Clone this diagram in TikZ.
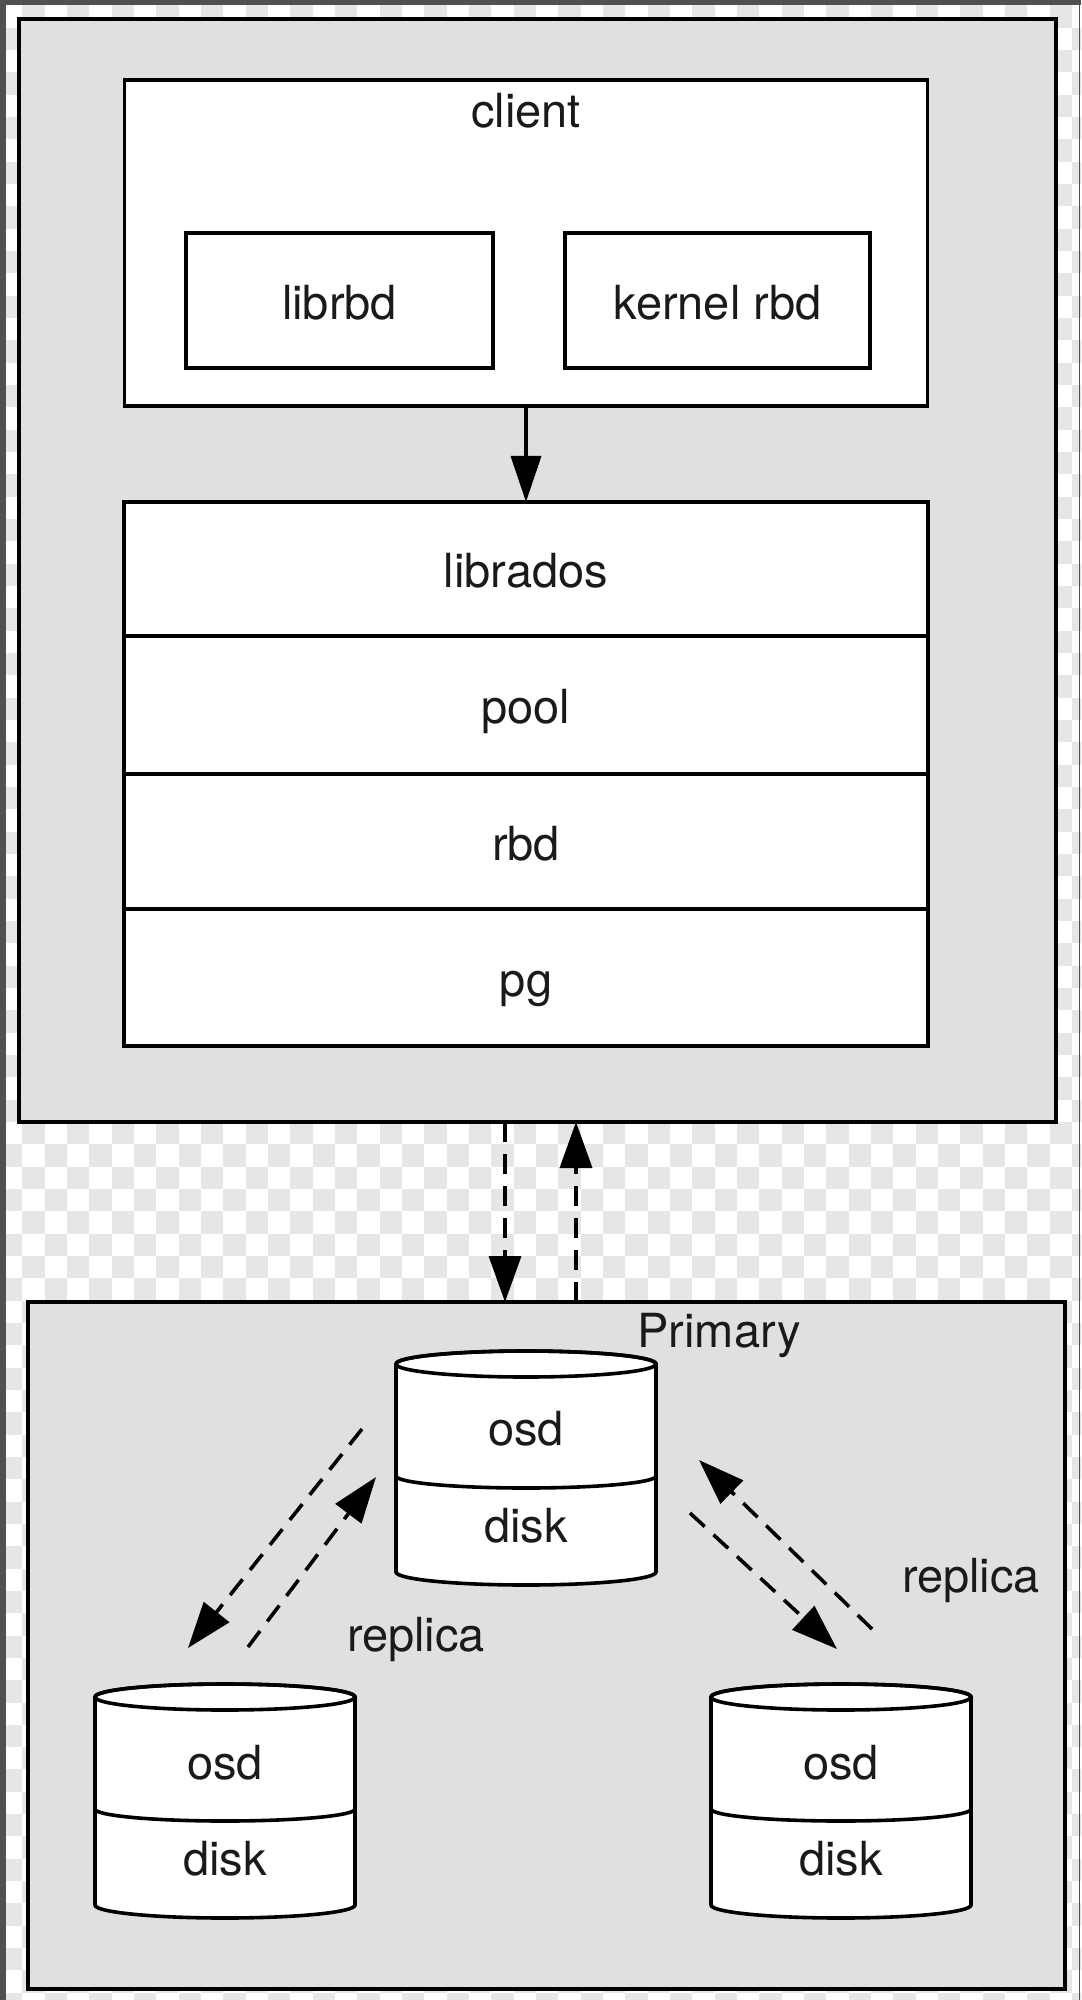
\documentclass[tikz,border=0pt]{standalone}
\usepackage{fontspec}
\setmainfont{TeX Gyre Heros}
\usetikzlibrary{arrows.meta}
\definecolor{boxgray}{HTML}{E0E0E0}
\definecolor{checkgray}{HTML}{E6E6E6}
\definecolor{stripgray}{HTML}{505050}
\definecolor{ink}{HTML}{1A1A1A}
\tikzset{
  graybox/.style={draw=black, line width=2.1pt, fill=boxgray, inner sep=0pt, outer sep=0pt},
  whitebox/.style={draw=black, line width=1.9pt, fill=white, inner sep=0pt, outer sep=0pt, lbl},
  lbl/.style={text=ink, font=\fontsize{23.5}{28}\selectfont, inner sep=0pt, text height=18.8pt, text depth=0pt},
  cylbody/.style={draw=black, line width=1.8pt, fill=white},
  cylline/.style={draw=black, line width=1.8pt},
  solidarrow/.style={draw=black, line width=1.7pt, -{Triangle[length=23pt,width=15pt]}},
  dasharrow/.style={draw=black, line width=1.8pt, dash pattern=on 10pt off 6pt, -{Triangle[length=23pt,width=16pt]}},
}
\newcommand{\mycyl}[5]{%
  \path[cylbody] (#1-130,#2) -- (#1-130,#4) arc[start angle=180,end angle=360,x radius=65pt,y radius=6.5pt] -- (#1+130,#2) arc[start angle=0,end angle=180,x radius=65pt,y radius=6.5pt] -- cycle;
  \draw[cylline] (#1,#2) ellipse[x radius=65pt,y radius=6.5pt];
  \draw[cylline] (#1-130,#3) arc[start angle=180,end angle=360,x radius=65pt,y radius=6pt];
  \coordinate (#5) at (#1,#2);
}
\begin{document}
\begin{tikzpicture}[x=0.5pt,y=-0.5pt]
\useasboundingbox (0,0) rectangle (1081,2000);
% background with checkerboard
\fill[white] (0,0) rectangle (1081,2000);
\begin{scope}
  \clip (0,0) rectangle (1081,2000);
  \foreach \i in {0,...,48}{
    \foreach \j in {-1,...,89}{
      \pgfmathtruncatemacro{\k}{mod(\i+\j+2,2)}
      \ifnum\k=1 \fill[checkgray] (\i*22.33,5.4+\j*22.33) rectangle ++(22.33,22.33);\fi
    }
  }
\end{scope}
\fill[stripgray] (0,0) rectangle (1081,5.5);
\fill[stripgray] (0,0) rectangle (6,2000);
\draw[stripgray, line width=0.75pt] (1079.5,0) -- (1079.5,2000);

% upper container
\node[graybox, minimum width=518.5pt, minimum height=551.5pt] (topbox) at (537.5,570.5) {};
\node[whitebox, minimum width=401.5pt, minimum height=163pt] (client) at (526,243) {};
\node[lbl] (clientlabel) at (526,109.2) {client};
\node[whitebox, minimum width=153.5pt, minimum height=67.5pt] (librbd) at (339.5,300.5) {librbd};
\node[whitebox, minimum width=152.5pt, minimum height=67.5pt] (kernelrbd) at (717.5,300.5) {kernel rbd};

\node[whitebox, minimum width=402pt, minimum height=67pt] (librados) at (526,569) {librados};
\node[whitebox, minimum width=402pt, minimum height=69pt] (pool) at (526,705) {pool};
\node[whitebox, minimum width=402pt, minimum height=67.5pt] (rbd) at (526,841.5) {rbd};
\node[whitebox, minimum width=402pt, minimum height=68.5pt] (pg) at (526,977.5) {pg};

\draw[solidarrow] (client.south) -- (librados.north);

% lower container
\node[graybox, minimum width=518.5pt, minimum height=343.5pt] (botbox) at (546.5,1645.5) {};

\coordinate (dn) at (505,0);
\coordinate (up) at (576,0);
\draw[dasharrow] (topbox.south -| dn) -- (botbox.north -| dn);
\draw[dasharrow] (botbox.north -| up) -- (topbox.south -| up);

% cylinders
\mycyl{526}{1364}{1476}{1572}{primarytop}
\mycyl{225}{1697}{1809}{1905}{lefttop}
\mycyl{841}{1697}{1809}{1905}{righttop}

\node[lbl] (primary) at (719,1329) {Primary};
\node[lbl] (posd) at (526,1427) {osd};
\node[lbl] (pdisk) at (526,1524) {disk};
\node[lbl] (losd) at (225,1761) {osd};
\node[lbl] (ldisk) at (225,1857) {disk};
\node[lbl] (rosd) at (841,1761) {osd};
\node[lbl] (rdisk) at (841,1857) {disk};
\node[lbl] (replicaL) at (416,1633) {replica};
\node[lbl] (replicaR) at (971,1574) {replica};

% replication arrows
\coordinate (la1) at (362,1429);
\coordinate (la2) at (188,1648);
\coordinate (lb1) at (248,1647);
\coordinate (lb2) at (376,1477);
\coordinate (ra1) at (690,1513);
\coordinate (ra2) at (837,1649);
\coordinate (rb1) at (872,1629);
\coordinate (rb2) at (699,1460);
\draw[dasharrow] (la1) -- (la2);
\draw[dasharrow] (lb1) -- (lb2);
\draw[dasharrow] (ra1) -- (ra2);
\draw[dasharrow] (rb1) -- (rb2);
\end{tikzpicture}
\end{document}
